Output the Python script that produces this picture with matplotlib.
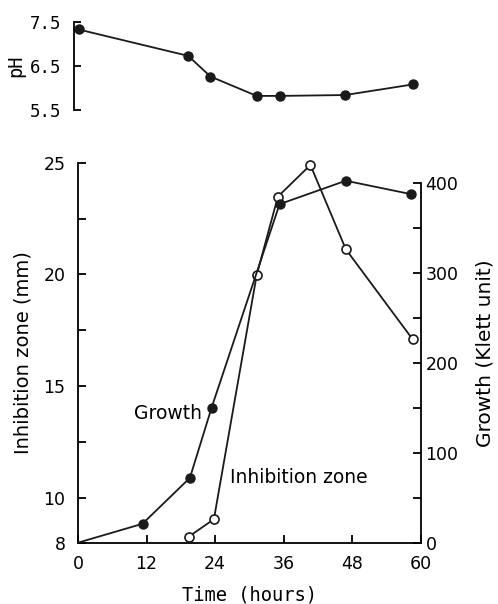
import numpy as np
import matplotlib.pyplot as plt

# Data
ph_time = [0.1, 19.3, 23.2, 31.3, 35.4, 46.8, 58.6]
ph_vals = [7.33, 6.73, 6.26, 5.82, 5.82, 5.84, 6.08]

growth_time = [0, 11.3, 19.6, 23.4, 35.3, 46.9, 58.4]
growth_vals = [0, 21, 72, 150, 376, 402, 387]

zone_time = [19.4, 23.8, 31.3, 35.0, 40.7, 46.9, 58.6]
zone_vals = [8.27, 9.05, 19.98, 23.48, 24.9, 21.13, 17.1]

x_ticks = [0, 12, 24, 36, 48, 60]

plt.rcParams['font.family'] = 'DejaVu Sans'
plt.rcParams['axes.linewidth'] = 1.3

fig = plt.figure(figsize=(4.98, 6.04), dpi=100)

# pH panel
axp = fig.add_axes([0.1566, 0.8179, 0.688, 0.1457])
axp.plot(ph_time, ph_vals, color='#1a1a1a', lw=1.3, marker='o', ms=6.5,
         mfc='#1a1a1a', mec='#1a1a1a', clip_on=False)
axp.set_xlim(0, 60)
axp.set_ylim(5.5, 7.5)
axp.set_yticks([5.5, 6.5, 7.5])
axp.set_xticks([])
for s in ['top', 'right', 'bottom']:
    axp.spines[s].set_visible(False)
axp.spines['left'].set_position(('outward', 3))
axp.tick_params(axis='y', direction='in', length=5, width=1.3, pad=9, labelsize=12.5)
for lab in axp.get_yticklabels():
    lab.set_fontfamily('DejaVu Sans Mono')
axp.set_ylabel('pH', fontsize=13.5, family='DejaVu Sans Mono', labelpad=3)

# main panel, inhibition zone on left axis
ax = fig.add_axes([0.1566, 0.1015, 0.688, 0.6291])
ax.plot(zone_time, zone_vals, color='#1a1a1a', lw=1.3, marker='o', ms=6.5,
        mfc='white', mec='#1a1a1a', mew=1.2, zorder=4, clip_on=False)
ax.set_xlim(0, 60)
ax.set_ylim(8, 25)
ax.set_xticks(x_ticks)
ax.set_yticks([8, 10, 15, 20, 25])
ax.set_yticks([12.5, 17.5, 22.5], minor=True)
ax.tick_params(axis='both', which='major', direction='in', length=6, width=1.3,
               labelsize=12.5)
ax.tick_params(axis='x', pad=9)
ax.tick_params(axis='y', which='major', pad=9)
ax.tick_params(axis='y', which='minor', direction='in', length=6, width=1.3)
ax.spines['top'].set_visible(False)
ax.spines['right'].set_visible(False)
ax.set_xlabel('Time (hours)', fontsize=13.5, family='DejaVu Sans Mono', labelpad=9)
ax.set_ylabel('Inhibition zone (mm)', fontsize=14, labelpad=8)

# growth on right axis
ax2 = ax.twinx()
ax2.plot(growth_time, growth_vals, color='#1a1a1a', lw=1.3, marker='o', ms=6.5,
         mfc='#1a1a1a', mec='#1a1a1a', markevery=list(range(1, len(growth_time))),
         zorder=3, clip_on=False)
ax2.set_ylim(0, 422)
ax2.set_yticks([0, 100, 200, 300, 400])
ax2.set_yticks([50, 150, 250, 350], minor=True)
ax2.tick_params(axis='y', which='both', direction='in', length=6, width=1.3,
                labelsize=12.5)
ax2.spines['top'].set_visible(False)
ax2.spines['left'].set_visible(False)
ax2.spines['bottom'].set_visible(False)
ax2.spines['right'].set_bounds(0, 400)
ax2.set_ylabel('Growth (Klett unit)', fontsize=14.5, labelpad=12)

ax.text(21.7, 13.76, 'Growth', fontsize=13.5, ha='right', va='center')
ax.text(26.6, 10.9, 'Inhibition zone', fontsize=13.5, ha='left', va='center')

fig.savefig('out.png', dpi=100)
